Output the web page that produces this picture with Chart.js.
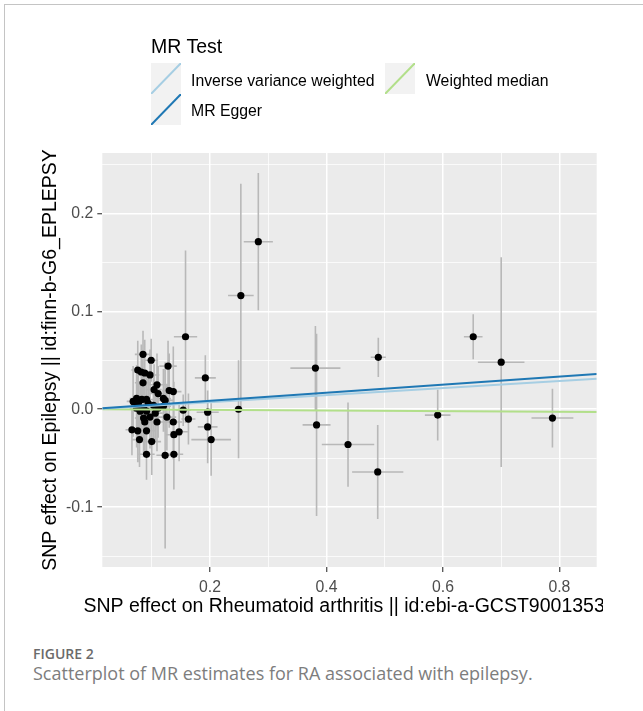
<!DOCTYPE html>
<html>
<head>
<meta charset="utf-8">
<script src="https://cdn.jsdelivr.net/npm/chart.js@4.4.1/dist/chart.umd.min.js"></script>
<style>
  body { margin: 0; background: #fff; }
  #page { position: relative; width: 643px; height: 711px; overflow: hidden; font-family: 'Liberation Sans', Arial, sans-serif; }
  #frame { position: absolute; left: 4px; top: 4px; right: -2px; bottom: -2px; border-left: 1px solid #c4c4c4; border-top: 1px solid #c4c4c4; }
  #c { position: absolute; left: 0; top: 0; }
  .lg-title { position: absolute; left: 151px; top: 36px; font-size: 19.5px; line-height: 20px; color: #000; white-space: nowrap; }
  .lg-text { position: absolute; font-size: 15.8px; line-height: 16px; color: #000; white-space: nowrap; }
  .lg-key { position: absolute; width: 30px; height: 31px; background: #f2f2f2; }
  .lg-key svg { display: block; }
  .cap1 { position: absolute; left: 33px; top: 644px; font-family: 'Open Sans', sans-serif; font-size: 14px; font-weight: 600; color: #6b6b6b; }
  .cap2 { position: absolute; left: 33px; top: 661px; font-family: 'Open Sans', sans-serif; font-size: 18px; color: #7d7d7d; white-space: nowrap; }
</style>
</head>
<body>
<div id="page">
  <div id="frame"></div>
  <canvas id="c" width="603" height="640"></canvas>
  <div id="legend"></div>
  <div class="cap1">FIGURE 2</div>
  <div class="cap2">Scatterplot of MR estimates for RA associated with epilepsy.</div>
</div>
<script>
// SNP estimates (x effect, y effect, and their SEs)
const snpX = [0.283, 0.253, 0.249, 0.158, 0.192, 0.196, 0.196, 0.202, 0.381, 0.383, 0.437, 0.489, 0.488, 0.591, 0.652, 0.700, 0.788,
  0.085, 0.099, 0.128, 0.076, 0.082, 0.088, 0.097, 0.085, 0.109, 0.104, 0.130, 0.137, 0.111, 0.120, 0.123, 0.074, 0.083, 0.091,
  0.068, 0.077, 0.094, 0.103, 0.074, 0.086, 0.111, 0.120, 0.080, 0.091, 0.106, 0.086, 0.097, 0.126, 0.154, 0.163, 0.088, 0.109,
  0.137, 0.066, 0.076, 0.091, 0.138, 0.147, 0.079, 0.100, 0.091, 0.123, 0.138];
const snpY = [0.171, 0.116, 0.000, 0.074, 0.032, -0.003, -0.018, -0.031, 0.042, -0.016, -0.036, 0.053, -0.064, -0.006, 0.074, 0.048, -0.009,
  0.056, 0.050, 0.044, 0.040, 0.038, 0.037, 0.035, 0.027, 0.025, 0.020, 0.019, 0.018, 0.016, 0.011, 0.009, 0.011, 0.010, 0.010,
  0.008, 0.006, 0.006, 0.004, 0.001, 0.001, 0.001, 0.003, -0.002, -0.002, -0.004, -0.009, -0.008, -0.008, -0.001, -0.010, -0.013, -0.013,
  -0.013, -0.021, -0.022, -0.022, -0.026, -0.023, -0.031, -0.033, -0.046, -0.047, -0.046];
const seX = [0.025, 0.022, 0.008, 0.020, 0.018, 0.019, 0.017, 0.034, 0.043, 0.024, 0.045, 0.013, 0.044, 0.022, 0.016, 0.040, 0.036,
  0.014, 0.012, 0.015, 0.011, 0.013, 0.012, 0.016, 0.014, 0.015, 0.013, 0.012, 0.014, 0.016, 0.013, 0.015, 0.012, 0.016, 0.014,
  0.011, 0.013, 0.015, 0.014, 0.012, 0.016, 0.015, 0.013, 0.014, 0.016, 0.013, 0.015, 0.014, 0.016, 0.013, 0.012, 0.014, 0.016,
  0.015, 0.011, 0.013, 0.016, 0.014, 0.015, 0.013, 0.016, 0.014, 0.015, 0.016];
const seY = [0.070, 0.114, 0.050, 0.088, 0.023, 0.012, 0.037, 0.037, 0.043, 0.093, 0.043, 0.020, 0.048, 0.026, 0.023, 0.107, 0.030,
  0.024, 0.022, 0.026, 0.030, 0.028, 0.034, 0.026, 0.030, 0.032, 0.026, 0.038, 0.046, 0.028, 0.030, 0.036, 0.034, 0.040, 0.030,
  0.036, 0.032, 0.028, 0.034, 0.040, 0.032, 0.030, 0.026, 0.030, 0.034, 0.028, 0.038, 0.032, 0.034, 0.016, 0.026, 0.034, 0.030,
  0.038, 0.026, 0.032, 0.038, 0.054, 0.030, 0.028, 0.034, 0.026, 0.095, 0.036];

// fitted MR lines, end points at the panel edges
const lineX = [0.0151, 0.864];
const ivwY = [0.0005, 0.0312];
const eggerY = [0.0010, 0.0360];
const wmY = [0.0000, -0.0028];

// axes
const xMin = 0.0151, xMax = 0.864;
const yMin = -0.161, yMax = 0.2615;
const xTicks = [0.1, 0.2, 0.3, 0.4, 0.5, 0.6, 0.7, 0.8];
const xMajor = [0.2, 0.4, 0.6, 0.8];
const xTickLabels = ['0.2', '0.4', '0.6', '0.8'];
const yTicks = [-0.15, -0.1, -0.05, 0, 0.05, 0.1, 0.15, 0.2, 0.25];
const yMajor = [-0.1, 0, 0.1, 0.2];
const yTickLabels = ['-0.1', '0.0', '0.1', '0.2'];
const xTitle = 'SNP effect on Rheumatoid arthritis || id:ebi-a-GCST90013534';
const yTitle = 'SNP effect on Epilepsy || id:finn-b-G6_EPLEPSY';

const methods = ['Inverse variance weighted', 'MR Egger', 'Weighted median'];
const methodColors = ['#a6cee3', '#1f78b4', '#b2df8a'];

const FONT = "'Liberation Sans', Arial, sans-serif";
Chart.defaults.font.family = FONT;

function majorIndex(list, v) {
    return list.findIndex(m => Math.abs(m - v) < 1e-9);
}

function linePoints(ys) {
    return lineX.map((x, i) => ({ x: x, y: ys[i] }));
}

// error bars as broken line segments (null closes each segment)
const vBars = [];
const hBars = [];
snpX.forEach((x, i) => {
    const y = snpY[i];
    vBars.push({ x: x, y: y - seY[i] }, { x: x, y: y + seY[i] }, { x: x, y: null });
    hBars.push({ x: x - seX[i], y: y }, { x: x + seX[i], y: y }, { x: x, y: null });
});

const panelBg = {
    id: 'panelBg',
    beforeDraw(chart) {
        const a = chart.chartArea;
        const ctx = chart.ctx;
        ctx.save();
        ctx.fillStyle = '#ebebeb';
        ctx.fillRect(a.left, a.top, a.right - a.left, a.bottom - a.top);
        ctx.restore();
    }
};

// axis titles drawn without Chart.js' maxWidth squeeze (x title runs off the right edge like the original)
const axisTitles = {
    id: 'axisTitles',
    afterDraw(chart) {
        const a = chart.chartArea;
        const ctx = chart.ctx;
        ctx.save();
        ctx.fillStyle = '#000';
        ctx.font = '19.5px ' + FONT;
        ctx.textAlign = 'center';
        ctx.textBaseline = 'middle';
        ctx.fillText(xTitle, (a.left + a.right) / 2, 607);
        ctx.translate(51, (a.top + a.bottom) / 2);
        ctx.rotate(-Math.PI / 2);
        ctx.fillText(yTitle, 0, 0);
        ctx.restore();
    }
};

function gridOpts(major) {
    return {
        color: '#ffffff',
        lineWidth: c => (c.tick && majorIndex(major, c.tick.value) >= 0) ? 1.5 : 0.75,
        tickColor: c => (c.tick && majorIndex(major, c.tick.value) >= 0) ? '#333333' : 'rgba(0,0,0,0)',
        tickWidth: 1.1,
        tickLength: 5
    };
}

new Chart(document.getElementById('c'), {
    type: 'scatter',
    data: {
        datasets: [
            { data: linePoints(eggerY), showLine: true, borderColor: methodColors[1], borderWidth: 2, pointRadius: 0 },
            { data: linePoints(ivwY), showLine: true, borderColor: methodColors[0], borderWidth: 2, pointRadius: 0 },
            { data: linePoints(wmY), showLine: true, borderColor: methodColors[2], borderWidth: 2, pointRadius: 0 },
            { data: snpX.map((x, i) => ({ x: x, y: snpY[i] })), pointRadius: 3.6, pointBackgroundColor: '#000', pointBorderWidth: 0, borderColor: '#000' },
            { data: vBars, showLine: true, spanGaps: false, borderColor: '#b8b8b8', borderWidth: 1.6, pointRadius: 0 },
            { data: hBars, showLine: true, spanGaps: false, borderColor: '#b8b8b8', borderWidth: 1.6, pointRadius: 0 }
        ]
    },
    options: {
        responsive: false,
        animation: false,
        layout: { padding: { left: 0, right: 6.3, top: 153, bottom: 0 } },
        plugins: { legend: { display: false }, tooltip: { enabled: false } },
        scales: {
            x: {
                type: 'linear',
                min: xMin,
                max: xMax,
                afterBuildTicks: s => { s.ticks = xTicks.map(v => ({ value: v })); },
                afterFit: s => { s.height = 73; },
                grid: gridOpts(xMajor),
                border: { display: false },
                ticks: {
                    autoSkip: false,
                    maxRotation: 0,
                    padding: 6,
                    color: '#4d4d4d',
                    font: { size: 15.8 },
                    callback: v => { const k = majorIndex(xMajor, v); return k >= 0 ? xTickLabels[k] : ''; }
                }
            },
            y: {
                type: 'linear',
                min: yMin,
                max: yMax,
                afterBuildTicks: s => { s.ticks = yTicks.map(v => ({ value: v })); },
                afterFit: s => { s.width = 102.3; },
                grid: gridOpts(yMajor),
                border: { display: false },
                ticks: {
                    autoSkip: false,
                    padding: 4,
                    color: '#4d4d4d',
                    font: { size: 15.8 },
                    callback: v => { const k = majorIndex(yMajor, v); return k >= 0 ? yTickLabels[k] : ''; }
                }
            }
        }
    },
    plugins: [panelBg, axisTitles]
});

// ggplot-style legend (title above, keys in two columns)
const legendPos = [
    { keyL: 151, keyT: 63, textL: 191, textT: 73 },
    { keyL: 151, keyT: 94, textL: 191, textT: 103 },
    { keyL: 385, keyT: 63, textL: 426, textT: 73 }
];
const lg = document.getElementById('legend');
let html = '<div class="lg-title">MR Test</div>';
methods.forEach((m, i) => {
    const p = legendPos[i];
    html += '<div class="lg-key" style="left:' + p.keyL + 'px;top:' + p.keyT + 'px">' +
        '<svg width="30" height="31"><line x1="0" y1="31" x2="30" y2="0" stroke="' + methodColors[i] + '" stroke-width="2"/></svg></div>' +
        '<div class="lg-text" style="left:' + p.textL + 'px;top:' + p.textT + 'px">' + m + '</div>';
});
lg.innerHTML = html;
</script>
</body>
</html>
